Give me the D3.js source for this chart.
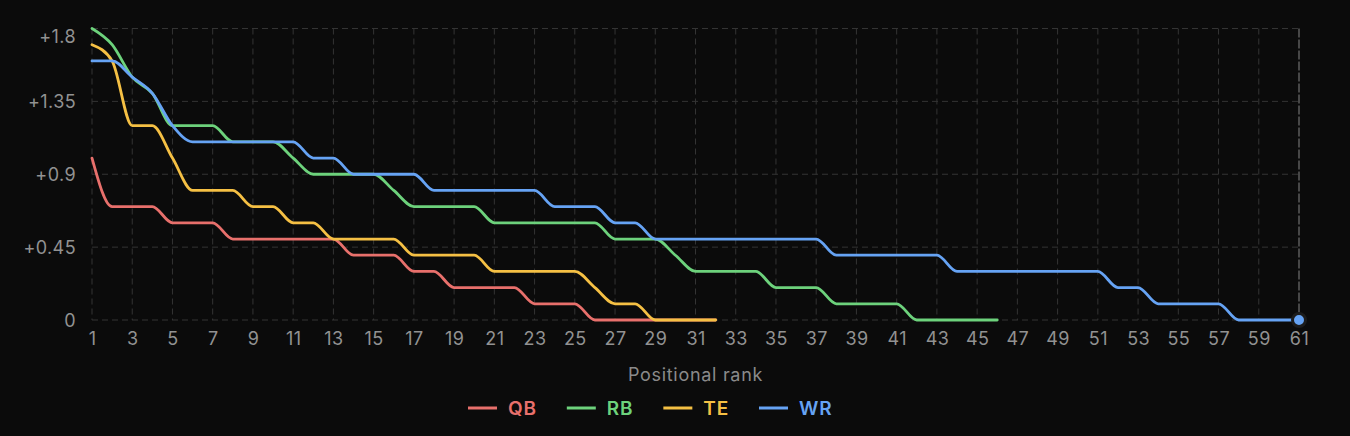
<!DOCTYPE html>
<html>
<head>
<meta charset="utf-8">
<script src="https://cdn.jsdelivr.net/npm/d3@7"></script>
<style>
  html, body { margin: 0; padding: 0; background: #0b0b0b; }
  svg { display: block; }
  text { font-family: Inter, "Noto Sans", sans-serif; }
</style>
</head>
<body>
<svg id="chart" width="1350" height="436"></svg>
<script>
const positions = ["QB", "RB", "TE", "WR"];
const colors = ["#e8706c", "#6dd27c", "#f5c044", "#66a3f4"];

const qbValues = [1.0, 0.7, 0.7, 0.7, 0.6, 0.6, 0.6, 0.5, 0.5, 0.5, 0.5, 0.5, 0.5, 0.4, 0.4, 0.4,
  0.3, 0.3, 0.2, 0.2, 0.2, 0.2, 0.1, 0.1, 0.1, 0, 0, 0, 0, 0, 0, 0];
const rbValues = [1.8, 1.7, 1.5, 1.4, 1.2, 1.2, 1.2, 1.1, 1.1, 1.1, 1.0, 0.9, 0.9, 0.9, 0.9, 0.8,
  0.7, 0.7, 0.7, 0.7, 0.6, 0.6, 0.6, 0.6, 0.6, 0.6, 0.5, 0.5, 0.5, 0.4, 0.3, 0.3, 0.3, 0.3,
  0.2, 0.2, 0.2, 0.1, 0.1, 0.1, 0.1, 0, 0, 0, 0, 0];
const teValues = [1.7, 1.6, 1.2, 1.2, 1.0, 0.8, 0.8, 0.8, 0.7, 0.7, 0.6, 0.6, 0.5, 0.5, 0.5, 0.5,
  0.4, 0.4, 0.4, 0.4, 0.3, 0.3, 0.3, 0.3, 0.3, 0.2, 0.1, 0.1, 0, 0, 0, 0];
const wrValues = [1.6, 1.6, 1.5, 1.4, 1.2, 1.1, 1.1, 1.1, 1.1, 1.1, 1.1, 1.0, 1.0, 0.9, 0.9, 0.9, 0.9,
  0.8, 0.8, 0.8, 0.8, 0.8, 0.8, 0.7, 0.7, 0.7, 0.6, 0.6, 0.5, 0.5, 0.5, 0.5, 0.5, 0.5, 0.5, 0.5, 0.5,
  0.4, 0.4, 0.4, 0.4, 0.4, 0.4, 0.3, 0.3, 0.3, 0.3, 0.3, 0.3, 0.3, 0.3, 0.2, 0.2, 0.1, 0.1, 0.1, 0.1,
  0, 0, 0, 0];
const seriesValues = [qbValues, rbValues, teValues, wrValues];

const xTicks = [1,3,5,7,9,11,13,15,17,19,21,23,25,27,29,31,33,35,37,39,41,43,45,47,49,51,53,55,57,59,61];
const yTicks = [0, 0.45, 0.9, 1.35, 1.8];
const yTickLabels = ["0", "+0.45", "+0.9", "+1.35", "+1.8"];
const xTitle = "Positional rank";
const hoverRank = 61;

const svg = d3.select("#chart");
const W = 1350, H = 436;
const m = { left: 92, right: 51, top: 28.5, bottom: 116 };

const x = d3.scaleLinear().domain([1, 61]).range([m.left, W - m.right]);
const y = d3.scaleLinear().domain([0, 1.8]).range([H - m.bottom, m.top]);

const grid = svg.append("g");
grid.selectAll("line.v").data(xTicks.filter(t => t !== hoverRank)).join("line")
  .attr("x1", d => x(d)).attr("x2", d => x(d))
  .attr("y1", y(1.8)).attr("y2", y(0))
  .attr("stroke", "#343434").attr("stroke-width", 1).attr("stroke-dasharray", "6,4");
grid.selectAll("line.h").data(yTicks).join("line")
  .attr("x1", x(1)).attr("x2", x(61))
  .attr("y1", d => y(d)).attr("y2", d => y(d))
  .attr("stroke", "#343434").attr("stroke-width", 1).attr("stroke-dasharray", "6,4");
svg.append("line")
  .attr("x1", x(hoverRank)).attr("x2", x(hoverRank))
  .attr("y1", y(1.8)).attr("y2", y(0))
  .attr("stroke", "#5c5c5c").attr("stroke-width", 1.5).attr("stroke-dasharray", "9,2");

const xAxis = svg.append("g").attr("transform", `translate(0,${y(0)})`)
  .call(d3.axisBottom(x).tickValues(xTicks).tickSize(0).tickPadding(12).tickFormat(d3.format("d")));
const yAxis = svg.append("g").attr("transform", `translate(${m.left},0)`)
  .call(d3.axisLeft(y).tickValues(yTicks).tickSize(0).tickPadding(16)
    .tickFormat((d, i) => yTickLabels[i]));
[xAxis, yAxis].forEach(a => {
  a.select(".domain").remove();
  a.selectAll("text").attr("fill", "#929292").attr("font-size", 18)
    .style("letter-spacing", "0.4px")
    .style("font-family", "Inter, 'Noto Sans', sans-serif");
});
yAxis.selectAll(".tick text").attr("dy", "0.35em");
yAxis.selectAll(".tick").filter(d => d === 1.8).attr("transform", `translate(0,${y(1.8) + 8})`);

svg.append("text").attr("x", (x(1) + x(61)) / 2).attr("y", 381)
  .attr("text-anchor", "middle").attr("fill", "#8a8a8a").attr("font-size", 18)
  .style("letter-spacing", "0.7px")
  .text(xTitle);

const line = d3.line().x((d, i) => x(i + 1)).y(d => y(d)).curve(d3.curveMonotoneX);
svg.append("g").selectAll("path").data(seriesValues).join("path")
  .attr("d", d => line(d))
  .attr("fill", "none")
  .attr("stroke", (d, i) => colors[i])
  .attr("stroke-width", 2.8)
  .attr("stroke-linejoin", "round")
  .attr("stroke-linecap", "round");

svg.append("circle")
  .attr("cx", x(hoverRank)).attr("cy", y(wrValues[hoverRank - 1]))
  .attr("r", 6.5).attr("fill", "#66a3f4")
  .attr("stroke", "#1c1c1c").attr("stroke-width", 3);

const legend = svg.append("g").attr("transform", "translate(468,408)");
let lx = 0;
positions.forEach((p, i) => {
  const g = legend.append("g").attr("transform", `translate(${lx},0)`);
  g.append("line").attr("x1", 0).attr("x2", 29).attr("y1", 0).attr("y2", 0)
    .attr("stroke", colors[i]).attr("stroke-width", 3);
  const t = g.append("text").attr("x", 40).attr("y", 0).attr("dy", "0.36em")
    .attr("fill", colors[i]).attr("font-size", 19).attr("font-weight", 600)
    .style("letter-spacing", "0.8px").text(p);
  lx += 40 + t.node().getComputedTextLength() + 30;
});
</script>
</body>
</html>
